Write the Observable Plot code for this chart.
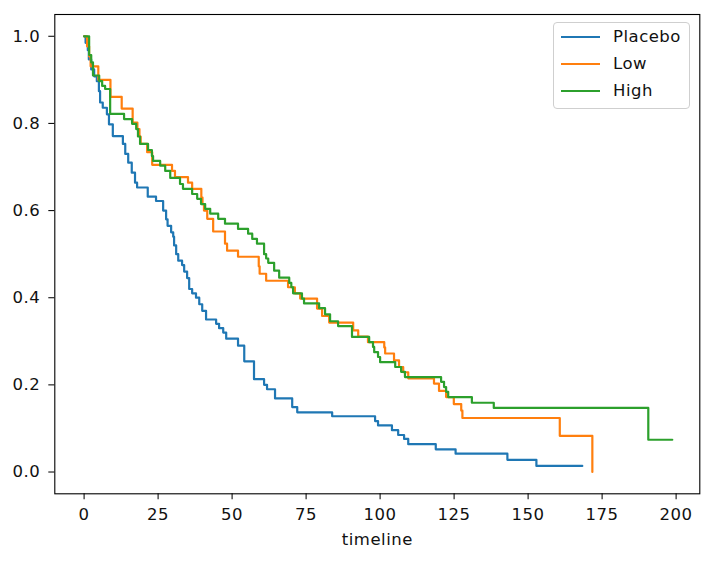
<!DOCTYPE html>
<html>
<head>
<meta charset="utf-8">
<script src="https://cdn.jsdelivr.net/npm/d3@7"></script>
<script src="https://cdn.jsdelivr.net/npm/@observablehq/plot@0.6"></script>
<style>
  body { margin: 0; background: white; }
  #wrap { position: relative; width: 711px; height: 562px; font-family: "DejaVu Sans", sans-serif; }
  #legend { position: absolute; left: 553px; top: 22px; width: 135px; height: 85px;
    border: 1px solid #cfcfcf; border-radius: 4px; background: white; }
  .row { position: absolute; left: 0; height: 0; }
  .swatch { position: absolute; left: 7px; width: 39px; height: 2.3px; top: -1.15px; }
  .lab { position: absolute; left: 59px; top: -10.5px; font-size: 16.5px; letter-spacing: 0.5px; line-height: 20px; color: #111; white-space: nowrap; }
</style>
</head>
<body>
<div id="wrap"></div>
<script>
// Kaplan-Meier step curves: [time, survival probability after that time]
const placebo = [[0,1.0],[0.5,0.985],[1.25,0.968],[1.6,0.947],[2.4,0.924],[3.4,0.908],[4.3,0.897],[5.0,0.874],[5.4,0.848],[6.3,0.836],[7.7,0.821],[8.4,0.798],[9.7,0.771],[13.1,0.753],[13.9,0.730],[14.9,0.71],[16.1,0.687],[17.2,0.664],[17.9,0.653],[21.5,0.632],[24.3,0.622],[26.7,0.60],[27.7,0.58],[28.2,0.565],[29.4,0.55],[30.1,0.54],[30.4,0.52],[31.1,0.50],[31.8,0.485],[33.1,0.475],[33.8,0.46],[34.8,0.445],[35.5,0.42],[36.5,0.41],[37.8,0.40],[38.9,0.385],[39.9,0.37],[41.2,0.35],[44.6,0.34],[45.6,0.33],[47.0,0.32],[48.0,0.306],[52.0,0.29],[54.1,0.254],[57.4,0.213],[60.8,0.20],[61.8,0.19],[64.5,0.169],[70.3,0.149],[72.0,0.137],[83.8,0.128],[98.3,0.117],[99.3,0.107],[104,0.096],[106.1,0.085],[108.1,0.076],[109.5,0.064],[118.8,0.052],[125.5,0.042],[143,0.028],[152.8,0.014],[168.3,0.014]];
const low = [[0,1.0],[1.0,0.977],[1.7,0.954],[2.2,0.931],[4.8,0.90],[8.9,0.861],[12.7,0.834],[16.4,0.802],[18.0,0.787],[18.7,0.77],[19.1,0.753],[21.3,0.734],[23.0,0.705],[29.7,0.691],[30.7,0.677],[35.1,0.664],[36.5,0.65],[39.6,0.63],[40.0,0.615],[40.5,0.60],[41.6,0.581],[43.6,0.552],[47.6,0.524],[48.3,0.508],[52.0,0.494],[59.0,0.472],[59.3,0.455],[61.5,0.439],[68.9,0.424],[71.2,0.41],[73.0,0.398],[78.7,0.375],[80.4,0.358],[82.8,0.343],[90.9,0.325],[92.6,0.311],[95.9,0.298],[101.4,0.286],[101.7,0.272],[104.7,0.256],[106.4,0.241],[107.8,0.229],[109.5,0.215],[118.2,0.203],[119.9,0.186],[122.3,0.172],[124.9,0.156],[127.4,0.141],[127.8,0.124],[160.7,0.083],[171.7,0.0]];
const high = [[0,1.0],[1.7,0.957],[2.4,0.94],[3.0,0.91],[5.1,0.897],[6.1,0.886],[7.1,0.879],[8.8,0.822],[13.5,0.81],[16.2,0.799],[17.6,0.787],[18.2,0.77],[18.9,0.753],[21.6,0.739],[22.9,0.725],[23.3,0.714],[25.7,0.703],[27.4,0.691],[29.1,0.675],[32.4,0.661],[33.4,0.65],[36.5,0.638],[38.2,0.627],[39.5,0.615],[40.9,0.604],[42.6,0.593],[45.3,0.581],[47.6,0.57],[52.0,0.558],[55.4,0.547],[56.8,0.535],[58.4,0.524],[60.8,0.50],[61.5,0.49],[62.2,0.48],[64.2,0.462],[65.9,0.446],[69.3,0.434],[70.0,0.424],[70.6,0.41],[73.6,0.398],[74.3,0.387],[79.4,0.376],[81.4,0.362],[83.1,0.346],[85.8,0.335],[90.5,0.31],[96.3,0.298],[97.6,0.287],[98.0,0.275],[99.3,0.264],[100,0.252],[105.1,0.241],[107.1,0.23],[108.4,0.218],[120.6,0.207],[121.6,0.195],[122.3,0.184],[123,0.172],[131,0.159],[138.4,0.147],[190.6,0.074],[198.7,0.074]];

const groups = ["Placebo", "Low", "High"];
const colors = ["#1f77b4", "#ff7f0e", "#2ca02c"];
const xTicks = [0, 25, 50, 75, 100, 125, 150, 175, 200];
const yTicks = [0.0, 0.2, 0.4, 0.6, 0.8, 1.0];
const xLabel = "timeline";

const series = [placebo, low, high];
const rows = [];
series.forEach((s, i) => s.forEach(([t, v]) => rows.push({group: groups[i], t, s: v})));

const chart = Plot.plot({
  width: 711,
  height: 562,
  marginLeft: 54.3,
  marginRight: 11.7,
  marginTop: 14,
  marginBottom: 68.7,
  style: {fontFamily: "DejaVu Sans, sans-serif", fontSize: "16.5px", letterSpacing: "0.5px", background: "white", color: "#111"},
  x: {domain: [-9.9, 208]},
  y: {domain: [-0.05, 1.05]},
  color: {domain: groups, range: colors},
  marks: [
    Plot.axisX(xTicks, {tickSize: 6, tickPadding: 8.5, fontSize: 16.5, label: null, strokeWidth: 1.1}),
    Plot.axisY(yTicks, {tickSize: 6, tickPadding: 8.5, fontSize: 16.5, label: null, strokeWidth: 1.1, tickFormat: d => d.toFixed(1)}),
    Plot.line(rows, {x: "t", y: "s", z: "group", stroke: "group", curve: "step-after", strokeWidth: 2.2}),
    Plot.frame({stroke: "black", strokeWidth: 1.1}),
    Plot.text([xLabel], {text: d => d, frameAnchor: "bottom", dy: 51.5, fontSize: 16.5})
  ]
});

const wrap = document.getElementById("wrap");
wrap.appendChild(chart);

const legend = document.createElement("div");
legend.id = "legend";
const rowTops = [14, 41, 68];
groups.forEach((g, i) => {
  const r = document.createElement("div");
  r.className = "row";
  r.style.top = rowTops[i] + "px";
  const sw = document.createElement("div");
  sw.className = "swatch";
  sw.style.background = colors[i];
  const lb = document.createElement("div");
  lb.className = "lab";
  lb.textContent = g;
  r.appendChild(sw);
  r.appendChild(lb);
  legend.appendChild(r);
});
wrap.appendChild(legend);
</script>
</body>
</html>
